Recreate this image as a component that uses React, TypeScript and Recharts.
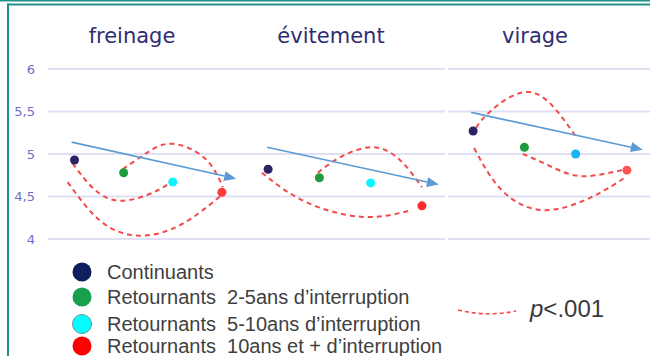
import React from 'react';
import { ComposedChart, Line, Scatter, XAxis, YAxis, CartesianGrid, ReferenceLine } from 'recharts';

// ---- data ----
const PANEL_TITLES = ['freinage', 'évitement', 'virage'];
const GROUP_LABELS = [
  'Continuants',
  'Retournants  2-5ans d’interruption',
  'Retournants  5-10ans d’interruption',
  'Retournants  10ans et + d’interruption',
];
const GROUP_X = [1, 2, 3, 4];
const FREINAGE = [4.93, 4.78, 4.67, 4.55];
const EVITEMENT = [4.82, 4.72, 4.66, 4.39];
const VIRAGE = [5.27, 5.08, 5.0, 4.81];
const Y_TICKS = [4, 4.5, 5, 5.5, 6];
const SIG_LABEL = '<.001';

// trend arrows (start, tip)
const TREND_FREINAGE = [{ x: 0.94, y: 5.14 }, { x: 4.29, y: 4.71 }];
const TREND_EVITEMENT = [{ x: 0.98, y: 5.08 }, { x: 4.33, y: 4.64 }];
const TREND_VIRAGE = [{ x: 0.96, y: 5.49 }, { x: 4.31, y: 5.05 }];

// significance curves (hand-drawn paths)
const SIG_FREINAGE_1 = [
  { x: 0.96, y: 4.89 }, { x: 1.41, y: 4.58 }, { x: 1.92, y: 4.45 }, { x: 2.49, y: 4.52 }, { x: 2.9, y: 4.64 },
];
const SIG_FREINAGE_2 = [
  { x: 0.86, y: 4.67 }, { x: 1.51, y: 4.22 }, { x: 2.27, y: 4.04 }, { x: 3.14, y: 4.16 }, { x: 4.0, y: 4.52 },
];
const SIG_FREINAGE_3 = [
  { x: 1.98, y: 4.82 }, { x: 2.49, y: 5.02 }, { x: 3.0, y: 5.12 }, { x: 3.65, y: 4.95 }, { x: 4.02, y: 4.61 },
];
const SIG_EVITEMENT_1 = [
  { x: 0.88, y: 4.78 }, { x: 1.72, y: 4.44 }, { x: 2.85, y: 4.26 }, { x: 3.8, y: 4.34 },
];
const SIG_EVITEMENT_2 = [
  { x: 1.97, y: 4.78 }, { x: 2.4, y: 4.96 }, { x: 3.03, y: 5.08 }, { x: 3.57, y: 4.93 }, { x: 4.0, y: 4.61 },
];
const SIG_VIRAGE_1 = [
  { x: 1.06, y: 5.31 }, { x: 1.35, y: 5.51 }, { x: 2.09, y: 5.73 }, { x: 2.71, y: 5.45 }, { x: 3.01, y: 5.2 },
];
const SIG_VIRAGE_2 = [
  { x: 1.02, y: 5.07 }, { x: 1.55, y: 4.58 }, { x: 2.36, y: 4.34 }, { x: 3.3, y: 4.49 }, { x: 3.98, y: 4.73 },
];
const SIG_VIRAGE_3 = [
  { x: 1.97, y: 5.0 }, { x: 2.42, y: 4.88 }, { x: 2.97, y: 4.75 }, { x: 3.49, y: 4.76 }, { x: 3.98, y: 4.82 },
];

// ---- styles ----
const POINT_COLORS = [
  ['#2b2366', '#1c9c3c', '#10f4ff', '#ff3a3a'],
  ['#2b2366', '#1c9c3c', '#10f4ff', '#ff2a2a'],
  ['#2b2366', '#1c9c3c', '#1ab4f2', '#ff5555'],
];
const LEGEND_COLORS = ['#0c1f5e', '#17a04e', '#00ffff', '#ff0000'];
const TEAL = '#22908a';
const RED_DASH = '#f24a4a';
const ARROW = '#5b9bd5';

const ArrowShape = (p: any) => {
  const { x1, y1, x2, y2 } = p;
  const ang = Math.atan2(y2 - y1, x2 - x1);
  const L = 12;
  const W = 5;
  const bx = x2 - L * Math.cos(ang);
  const by = y2 - L * Math.sin(ang);
  const nx = -Math.sin(ang);
  const ny = Math.cos(ang);
  return (
    <g>
      <line x1={x1} y1={y1} x2={bx} y2={by} stroke={ARROW} strokeWidth={1.6} />
      <polygon
        points={`${x2},${y2} ${bx + nx * W},${by + ny * W} ${bx - nx * W},${by - ny * W}`}
        fill={ARROW}
      />
    </g>
  );
};

type Pt = { x: number; y: number };

function Panel(props: {
  left: number;
  width: number;
  showAxis: boolean;
  xDomain: [number, number];
  values: number[];
  colors: string[];
  trend: Pt[];
  curves: Pt[][];
}) {
  const { left, width, showAxis, xDomain, values, colors, trend, curves } = props;
  const points = values.map((v, i) => ({ x: GROUP_X[i], y: v, g: i }));
  return (
    <div style={{ position: 'absolute', left, top: 0 }}>
      <ComposedChart width={width} height={260} margin={{ top: 69, right: 0, bottom: 21, left: 0 }}>
        <CartesianGrid vertical={false} stroke="#dfe0f3" strokeWidth={2} />
        <XAxis type="number" dataKey="x" domain={xDomain} hide allowDataOverflow />
        <YAxis
          type="number"
          dataKey="y"
          domain={[4, 6]}
          ticks={Y_TICKS}
          hide={!showAxis}
          width={48}
          axisLine={false}
          tickLine={false}
          tickMargin={7}
          tick={{ fill: '#6e6ec8', fontSize: 13, fontFamily: 'DejaVu Sans' }}
          tickFormatter={(v: number) => String(v).replace('.', ',')}
        />
        {curves.map((c, i) => (
          <Line
            key={i}
            data={c}
            dataKey="y"
            type="natural"
            stroke={RED_DASH}
            strokeWidth={2}
            strokeDasharray="5 4"
            dot={false}
            activeDot={false}
            isAnimationActive={false}
          />
        ))}
        <ReferenceLine segment={trend} shape={ArrowShape} ifOverflow="visible" />
        <Scatter
          data={points}
          isAnimationActive={false}
          shape={(sp: any) => (
            <circle cx={sp.cx} cy={sp.cy} r={4.5} fill={colors[sp.payload.g]} />
          )}
        />
      </ComposedChart>
    </div>
  );
}

export default function App() {
  const titleX = [132, 331, 535];
  const legendY = [272, 297, 324, 346];
  return (
    <div
      style={{
        position: 'absolute',
        left: 0,
        top: 0,
        width: 650,
        height: 356,
        background: '#ffffff',
        overflow: 'hidden',
      }}
    >
      <Panel
        left={0}
        width={244}
        showAxis
        xDomain={[0.46, 4.45]}
        values={FREINAGE}
        colors={POINT_COLORS[0]}
        trend={TREND_FREINAGE}
        curves={[SIG_FREINAGE_1, SIG_FREINAGE_2, SIG_FREINAGE_3]}
      />
      <Panel
        left={244}
        width={201}
        showAxis={false}
        xDomain={[0.53, 4.45]}
        values={EVITEMENT}
        colors={POINT_COLORS[1]}
        trend={TREND_EVITEMENT}
        curves={[SIG_EVITEMENT_1, SIG_EVITEMENT_2]}
      />
      <Panel
        left={448}
        width={202}
        showAxis={false}
        xDomain={[0.51, 4.45]}
        values={VIRAGE}
        colors={POINT_COLORS[2]}
        trend={TREND_VIRAGE}
        curves={[SIG_VIRAGE_1, SIG_VIRAGE_2, SIG_VIRAGE_3]}
      />
      <svg
        width={650}
        height={356}
        style={{ position: 'absolute', left: 0, top: 0, pointerEvents: 'none' }}
      >
        <rect x={0} y={0} width={650} height={1.5} fill={TEAL} />
        <rect x={7} y={3.5} width={643} height={2} fill={TEAL} />
        <rect x={7} y={3.5} width={2} height={353} fill={TEAL} />
        {PANEL_TITLES.map((t, i) => (
          <text
            key={t}
            x={titleX[i]}
            y={43}
            textAnchor="middle"
            fontFamily="DejaVu Sans"
            fontSize={21}
            fill="#2e2d72"
          >
            {t}
          </text>
        ))}
        {GROUP_LABELS.map((l, i) => (
          <g key={l}>
            <circle
              cx={82}
              cy={legendY[i]}
              r={9.5}
              fill={LEGEND_COLORS[i]}
              stroke={i === 2 ? '#6a9a9a' : 'none'}
              strokeWidth={1}
            />
            <text
              x={107}
              y={legendY[i] + 7}
              fontFamily="Liberation Sans"
              fontSize={20}
              fill="#404040"
              style={{ whiteSpace: 'pre' }}
            >
              {l}
            </text>
          </g>
        ))}
        <path
          d="M458,310 Q487,317 516,311"
          fill="none"
          stroke={RED_DASH}
          strokeWidth={1.6}
          strokeDasharray="4 3"
        />
        <text x={530} y={317} fontFamily="Liberation Sans" fontSize={24} fill="#3a3a3a">
          <tspan fontStyle="italic">p</tspan>
          {SIG_LABEL}
        </text>
      </svg>
    </div>
  );
}
